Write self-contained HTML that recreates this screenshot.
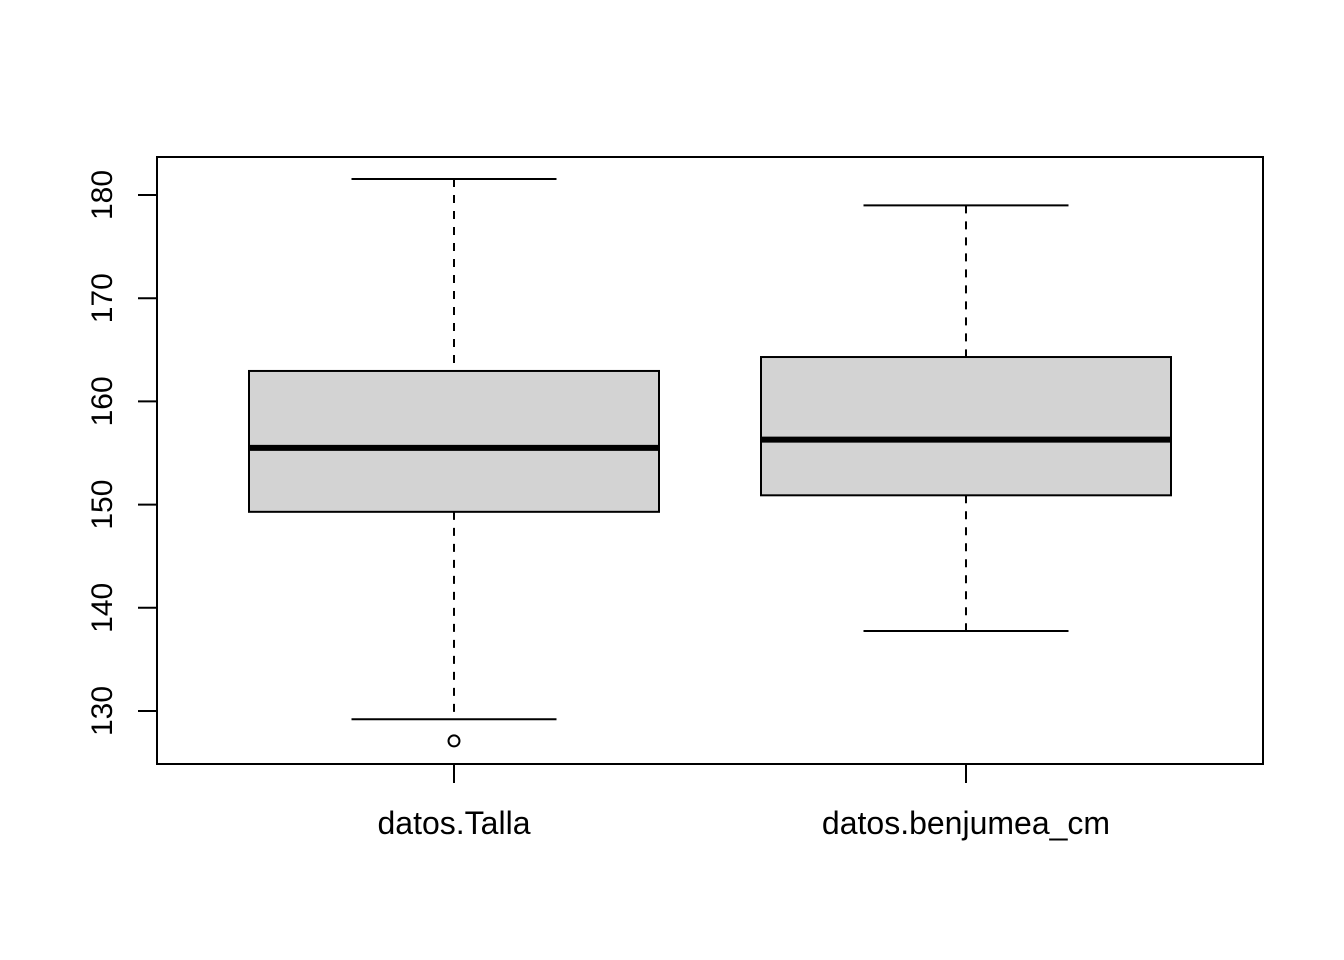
<!DOCTYPE html>
<html><head><meta charset="utf-8"><style>
html,body{margin:0;padding:0;background:#fff;}
svg{display:block;font-family:"Liberation Sans",Arial,sans-serif;}
</style></head><body>
<svg id="chart" width="1344" height="960" xmlns="http://www.w3.org/2000/svg">
<rect x="0" y="0" width="1344" height="960" fill="#fff"/>
<rect x="157" y="157" width="1106" height="607" fill="none" stroke="#000" stroke-width="2"/>
<g id="marks"></g>
<g id="axes"></g>
</svg>
<script>
const categories = ["datos.Talla", "datos.benjumea_cm"];
const lowerWhisker = [129.2, 137.75];
const q1Values = [149.3, 150.9];
const medianValues = [155.5, 156.3];
const q3Values = [162.95, 164.3];
const upperWhisker = [181.55, 179.0];
const outlierValues = [[127.1], []];
const yTicks = [130, 140, 150, 160, 170, 180];

const NS = "http://www.w3.org/2000/svg";
function y(v){ return 711 + (130 - v) * 10.32; }
function x(i){ return 454 + i * 512; }
const marks = document.getElementById("marks");
const axes = document.getElementById("axes");
function mk(tag, attrs, parent){
  const e = document.createElementNS(NS, tag);
  for (const k in attrs) e.setAttribute(k, attrs[k]);
  parent.appendChild(e);
  return e;
}
categories.forEach((c, i) => {
  const cx = x(i);
  const g = mk("g", {}, marks);
  
  
  const w1 = mk("line", {x1:cx, x2:cx, y1:y(upperWhisker[i]), y2:y(q3Values[i]), stroke:"#000", "stroke-width":2, "stroke-dasharray":"8,8"}, g);
  
  
  const w2 = mk("line", {x1:cx, x2:cx, y1:y(q1Values[i]), y2:y(lowerWhisker[i]), stroke:"#000", "stroke-width":2, "stroke-dasharray":"8,8"}, g);
  
  
  const c1 = mk("line", {x1:cx-102.5, x2:cx+102.5, y1:y(upperWhisker[i]), y2:y(upperWhisker[i]), stroke:"#000", "stroke-width":2}, g);
  
  
  const c2 = mk("line", {x1:cx-102.5, x2:cx+102.5, y1:y(lowerWhisker[i]), y2:y(lowerWhisker[i]), stroke:"#000", "stroke-width":2}, g);
  
  
  const b = mk("rect", {x:cx-205, width:410, y:y(q3Values[i]), height:y(q1Values[i])-y(q3Values[i]), fill:"#d3d3d3", stroke:"#000", "stroke-width":2}, g);
  
  
  const m = mk("line", {x1:cx-205, x2:cx+205, y1:y(medianValues[i]), y2:y(medianValues[i]), stroke:"#000", "stroke-width":6}, g);
  
  
  outlierValues[i].forEach(v => {
    const o = mk("circle", {cx:cx, cy:y(v), r:5.5, fill:"none", stroke:"#000", "stroke-width":2}, g);
    
    
  });
  const t = mk("line", {x1:cx, x2:cx, y1:764, y2:783, stroke:"#000", "stroke-width":2}, axes);
  
  
  const l = mk("text", {x:cx, y:834, "text-anchor":"middle", "font-size":32}, axes);
  l.textContent = c;
  
  
});
const ax = mk("line", {x1:157, x2:157, y1:y(yTicks[0]), y2:y(yTicks[yTicks.length-1]), stroke:"#000", "stroke-width":2}, axes);


yTicks.forEach(v => {
  const t = mk("line", {x1:138, x2:157, y1:y(v), y2:y(v), stroke:"#000", "stroke-width":2}, axes);
  
  
  const l = mk("text", {x:0, y:0, "text-anchor":"middle", "font-size":30, transform:"translate(112," + y(v) + ") rotate(-90)"}, axes);
  l.textContent = v;
  
  
});
</script>
</body></html>
